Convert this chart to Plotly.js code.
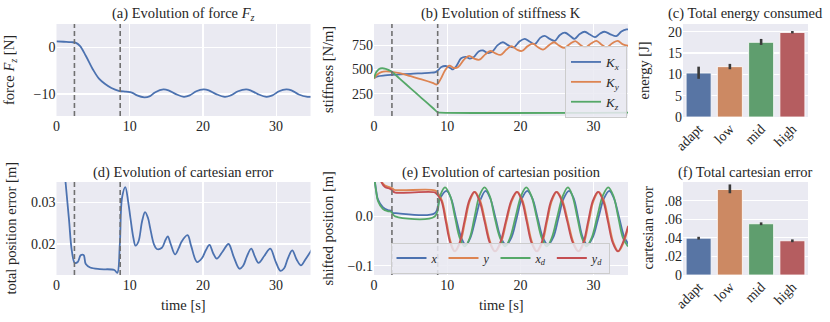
<!DOCTYPE html>
<html>
<head>
<meta charset="utf-8">
<script src="https://cdn.plot.ly/plotly-3.0.1.min.js"></script>
<style>
  html, body { margin: 0; padding: 0; background: #fff; }
  #plot { width: 830px; height: 322px; }
</style>
</head>
<body>
<div id="plot"></div>
<script>
// ---- data ----
// dashed phase markers [s]
const phaseTimes = [2.45, 8.7];

// (a) force Fz
const forceTime = [0, 1, 2, 2.6, 3.2, 4, 5, 5.8, 6.6, 7.5, 8.5, 9.5, 10.3, 11, 12, 12.7, 13.5, 14.6, 15.3, 16.3, 17.4, 18.2, 19.1, 20.1, 20.8, 21.8, 23.0, 23.8, 24.8, 25.9, 26.5, 27.5, 28.7, 29.5, 30.4, 31.4, 32.1, 33.1, 34.3, 35];
const forceVal = [1.3, 1.2, 1.1, 1.0, 0.3, -1.8, -4.8, -6.7, -7.8, -8.7, -9.3, -9.5, -9.7, -10.3, -10.7, -10.5, -9.6, -9.0, -9.2, -10.0, -10.6, -10.3, -9.4, -9.0, -9.2, -10.0, -10.6, -10.3, -9.4, -9.0, -9.2, -10.0, -10.6, -10.3, -9.4, -9.0, -9.2, -10.1, -10.6, -10.6];

// (b) stiffness
const kxTime = [0, 0.5, 1.5, 2.5, 5, 7.5, 8.4, 8.8, 9.2, 9.8, 10.4, 10.8, 11.3, 11.9, 12.5, 13.1, 13.6, 14.3, 14.9, 15.5, 16.1, 16.9, 17.6, 18.3, 19.1, 19.9, 20.6, 21.3, 22.0, 22.7, 23.3, 24.0, 24.7, 25.4, 26.1, 26.8, 27.4, 28.1, 28.8, 29.5, 30.2, 30.9, 31.5, 32.3, 33.1, 33.8, 34.5, 35];
const kxVal = [410, 428, 438, 444, 455, 465, 472, 495, 525, 535, 515, 500, 540, 615, 630, 612, 625, 685, 695, 670, 680, 750, 780, 750, 728, 790, 815, 785, 762, 825, 845, 815, 795, 855, 878, 845, 815, 865, 888, 860, 832, 870, 888, 862, 843, 890, 912, 912];
const kyTime = [0, 0.4, 1.0, 1.6, 2.4, 3.5, 5.0, 6.5, 8.0, 8.6, 9.1, 9.7, 10.3, 10.9, 11.5, 12.3, 13.0, 13.7, 14.4, 15.2, 15.9, 16.6, 17.3, 18.1, 18.8, 19.5, 20.2, 21.0, 21.7, 22.4, 23.1, 23.9, 24.6, 25.3, 26.0, 26.8, 27.5, 28.2, 28.9, 29.7, 30.4, 31.1, 31.8, 32.6, 33.3, 34.0, 35];
const kyVal = [405, 445, 472, 480, 475, 462, 430, 398, 362, 345, 400, 490, 540, 515, 525, 600, 640, 610, 600, 655, 690, 665, 650, 705, 740, 705, 690, 740, 765, 728, 705, 750, 780, 745, 722, 765, 792, 752, 728, 770, 795, 755, 730, 772, 795, 758, 740];
const kzTime = [0, 0.3, 0.7, 1.1, 1.6, 2.4, 3.5, 5.0, 6.5, 8.0, 8.7, 9.0, 35];
const kzVal = [410, 470, 505, 512, 505, 478, 405, 305, 205, 105, 58, 55, 55];

// (c) energy per strategy
const strategies = ['adapt', 'low', 'mid', 'high'];
const energyVal = [10.3, 11.8, 17.5, 19.8];
const energyErrUp = [1.5, 0.65, 0.8, 0.35];
const energyErrDown = [1.35, 0.6, 0.6, 0.2];

// (d) total position error
const errTime = [0, 0.5, 1.0, 1.25, 1.7, 2.1, 2.5, 2.9, 3.3, 3.7, 4.0, 4.6, 5.9, 7.9, 8.3, 8.65, 8.95, 9.4, 9.8, 10.1, 10.5, 10.8, 11.2, 11.7, 12.1, 12.5, 12.8, 13.3, 13.7, 14.4, 14.9, 15.2, 15.6, 16.2, 16.7, 17.1, 17.9, 18.4, 19.2, 19.9, 20.4, 20.9, 21.4, 21.9, 22.7, 23.5, 24.2, 25.0, 25.5, 26.0, 26.6, 27.1, 27.6, 28.4, 29.2, 29.9, 30.6, 31.1, 31.6, 32.2, 32.8, 33.4, 34.0, 35];
const errVal = [0.075, 0.055, 0.040, 0.0345, 0.026, 0.0183, 0.0155, 0.0157, 0.0173, 0.0174, 0.0152, 0.0144, 0.0140, 0.0138, 0.0131, 0.0199, 0.0310, 0.0336, 0.0300, 0.0262, 0.0215, 0.0196, 0.0206, 0.0255, 0.0276, 0.0262, 0.0238, 0.0200, 0.0188, 0.0191, 0.0210, 0.0218, 0.0200, 0.0175, 0.0190, 0.0206, 0.0221, 0.0195, 0.0157, 0.0167, 0.0185, 0.0198, 0.0178, 0.0165, 0.0182, 0.0200, 0.0170, 0.0141, 0.0148, 0.0170, 0.0189, 0.0170, 0.0155, 0.0172, 0.0189, 0.0160, 0.0136, 0.0142, 0.0165, 0.0185, 0.0163, 0.0149, 0.0163, 0.0190];

// (e) shifted cartesian position
const posXTime = [0, 0.3, 0.55, 1.2, 1.9, 2.35, 2.6, 3.0, 8.3, 9.0, 9.9, 10.55, 11.2, 11.9, 12.55, 13.2, 13.9, 14.6, 15.25, 15.9, 16.6, 17.3, 18.05, 18.8, 19.5, 20.2, 20.95, 21.65, 22.35, 23.05, 23.75, 24.5, 25.2, 25.9, 26.65, 27.3, 27.9, 28.5, 29.15, 29.9, 30.65, 31.4, 32.15, 32.8, 33.5, 34.2, 34.85];
const posXVal = [0.085, 0.052, 0.034, 0.019, 0.013, 0.0115, 0.007, 0.0068, 0.0065, 0.036, 0.052, 0.036, -0.003, -0.042, -0.058, -0.042, -0.003, 0.036, 0.052, 0.036, -0.003, -0.042, -0.058, -0.042, -0.003, 0.036, 0.052, 0.036, -0.003, -0.042, -0.058, -0.042, -0.003, 0.036, 0.052, 0.036, -0.003, -0.042, -0.058, -0.042, -0.003, 0.036, 0.052, 0.036, -0.003, -0.042, -0.058];
const posYTime = [0, 0.5, 1.0, 1.5, 2.2, 2.5, 2.8, 8.3, 8.7, 9.3, 9.9, 10.5, 11.1, 11.8, 12.45, 13.1, 13.8, 14.5, 15.2, 15.9, 16.6, 17.35, 18.1, 18.85, 19.6, 20.3, 20.95, 21.6, 22.3, 23.0, 23.65, 24.3, 25.0, 25.75, 26.5, 27.25, 28.0, 28.7, 29.35, 30.0, 30.7, 31.4, 32.05, 32.7, 33.4, 34.1, 34.8];
const posYVal = [0.16, 0.1, 0.072, 0.063, 0.059, 0.057, 0.054, 0.053, 0.048, 0.032, -0.01, -0.053, -0.071, -0.053, -0.01, 0.032, 0.05, 0.032, -0.01, -0.053, -0.071, -0.053, -0.01, 0.032, 0.05, 0.032, -0.01, -0.053, -0.071, -0.053, -0.01, 0.032, 0.05, 0.032, -0.01, -0.053, -0.071, -0.053, -0.01, 0.032, 0.05, 0.032, -0.01, -0.053, -0.071, -0.053, -0.018];
const posXdTime = [0, 0.3, 0.55, 1.2, 1.9, 2.35, 2.6, 2.9, 8.3, 9.0, 9.7, 10.4, 11.05, 11.7, 12.4, 13.1, 13.75, 14.4, 15.1, 15.8, 16.45, 17.2, 17.9, 18.6, 19.35, 20.1, 20.8, 21.5, 22.2, 22.9, 23.6, 24.3, 25.05, 25.8, 26.5, 27.1, 27.75, 28.4, 29.0, 29.75, 30.5, 31.25, 32.0, 32.7, 33.35, 34.0, 34.7];
const posXdVal = [0.085, 0.05, 0.031, 0.0155, 0.0105, 0.0095, 0.004, 0.0, 0.0, 0.041, 0.059, 0.042, 0.0, -0.043, -0.061, -0.043, 0.0, 0.042, 0.059, 0.042, 0.0, -0.043, -0.061, -0.043, 0.0, 0.042, 0.059, 0.042, 0.0, -0.043, -0.061, -0.043, 0.0, 0.042, 0.059, 0.042, 0.0, -0.043, -0.061, -0.043, 0.0, 0.042, 0.059, 0.042, 0.0, -0.043, -0.061];
const posYdTime = [0, 0.5, 1.0, 1.5, 2.2, 2.5, 2.8, 8.3, 8.6, 9.2, 9.8, 10.4, 11.0, 11.7, 12.35, 13.0, 13.7, 14.4, 15.1, 15.8, 16.5, 17.25, 18.0, 18.75, 19.5, 20.2, 20.85, 21.5, 22.2, 22.9, 23.55, 24.2, 24.9, 25.65, 26.4, 27.15, 27.9, 28.6, 29.25, 29.9, 30.6, 31.3, 31.95, 32.6, 33.3, 34.0, 34.7];
const posYdVal = [0.16, 0.1, 0.07, 0.06, 0.056, 0.053, 0.049, 0.049, 0.045, 0.032, -0.01, -0.053, -0.071, -0.053, -0.01, 0.032, 0.05, 0.032, -0.01, -0.053, -0.071, -0.053, -0.01, 0.032, 0.05, 0.032, -0.01, -0.053, -0.071, -0.053, -0.01, 0.032, 0.05, 0.032, -0.01, -0.053, -0.071, -0.053, -0.01, 0.032, 0.05, 0.032, -0.01, -0.053, -0.071, -0.053, -0.02];

// (f) total cartesian error
const cartErrVal = [0.0396, 0.0919, 0.0551, 0.0368];
const cartErrUp = [0.0015, 0.0055, 0.0015, 0.0015];
const cartErrDown = [0.0015, 0.004, 0.0015, 0.0015];

// ---- style ----
const W = 830, H = 322;
const FONT = '"Liberation Serif", serif';
const TXT = '#262626';
const BG = '#EAEAF2';
const C = { blue: '#4C72B0', orange: '#DD8452', green: '#55A868', red: '#C44E52' };
const BAR = ['#5875A4', '#CC8963', '#5F9E6E', '#B55D60'];

// plot boxes in pixels: [left, right, top, bottom]
const boxes = [
    [56.5, 310.5, 24, 116],
    [374, 628, 24, 116],
    [683, 808, 24, 117],
    [56.5, 310.5, 182, 275],
    [374, 628, 182, 275],
    [683, 808, 182, 275]
];
const xDom = b => [b[0] / W, b[1] / W];
const yDom = b => [1 - b[3] / H, 1 - b[2] / H];

function axis(extra) {
    return Object.assign({
        showgrid: true, gridcolor: '#ffffff', gridwidth: 1.2,
        zeroline: false, showline: false, ticks: '',
        tickfont: { family: FONT, size: 14, color: TXT }
    }, extra);
}

function line(x, y, color, xa, ya, extra) {
    return Object.assign({
        x, y, type: 'scatter', mode: 'lines', xaxis: xa, yaxis: ya,
        line: { color, width: 1.8, shape: 'spline', smoothing: 1.0 },
        showlegend: false, hoverinfo: 'skip'
    }, extra || {});
}

const traces = [
    line(forceTime, forceVal, C.blue, 'x', 'y'),
    line(kxTime, kxVal, C.blue, 'x2', 'y2', { name: '<i>K</i><sub><i>x</i></sub>', showlegend: true, legend: 'legend' }),
    line(kyTime, kyVal, C.orange, 'x2', 'y2', { name: '<i>K</i><sub><i>y</i></sub>', showlegend: true, legend: 'legend' }),
    line(kzTime, kzVal, C.green, 'x2', 'y2', { name: '<i>K</i><sub><i>z</i></sub>', showlegend: true, legend: 'legend' }),
    {
        x: strategies, y: energyVal, type: 'bar', xaxis: 'x3', yaxis: 'y3', width: 0.8,
        marker: { color: BAR, line: { color: '#ffffff', width: 0.8 } },
        error_y: { type: 'data', symmetric: false, array: energyErrUp, arrayminus: energyErrDown, color: '#3a3a3a', thickness: 2.6, width: 0 },
        showlegend: false, hoverinfo: 'skip'
    },
    line(errTime, errVal, C.blue, 'x4', 'y4'),
    line(posXTime, posXVal, C.blue, 'x5', 'y5', { name: '<i>x</i>', showlegend: true, legend: 'legend2' }),
    line(posYTime, posYVal, C.orange, 'x5', 'y5', { name: '<i>y</i>', showlegend: true, legend: 'legend2' }),
    line(posXdTime, posXdVal, C.green, 'x5', 'y5', { name: '<i>x</i><sub><i>d</i></sub>', showlegend: true, legend: 'legend2' }),
    line(posYdTime, posYdVal, C.red, 'x5', 'y5', { name: '<i>y</i><sub><i>d</i></sub>', showlegend: true, legend: 'legend2' }),
    {
        x: strategies, y: cartErrVal, type: 'bar', xaxis: 'x6', yaxis: 'y6', width: 0.8,
        marker: { color: BAR, line: { color: '#ffffff', width: 0.8 } },
        error_y: { type: 'data', symmetric: false, array: cartErrUp, arrayminus: cartErrDown, color: '#3a3a3a', thickness: 2.6, width: 0 },
        showlegend: false, hoverinfo: 'skip'
    }
];

// dashed phase lines on the four time panels
const shapes = [];
[['x', 'y'], ['x2', 'y2'], ['x4', 'y4'], ['x5', 'y5']].forEach(([xa, ya]) => {
    phaseTimes.forEach(t => {
        shapes.push({
            type: 'line', xref: xa, yref: ya + ' domain', x0: t, x1: t, y0: 0, y1: 1,
            line: { color: '#707070', width: 1.6, dash: '5px,3px' }
        });
    });
});

// titles and axis labels as annotations
function note(text, px, py, angle) {
    return {
        text, xref: 'paper', yref: 'paper', x: px / W, y: 1 - py / H,
        xanchor: 'center', yanchor: 'middle', showarrow: false, textangle: angle || 0,
        font: { family: FONT, size: 14.5, color: TXT }
    };
}
const mid = b => (b[0] + b[1]) / 2;
const vmid = b => (b[2] + b[3]) / 2;
const annotations = [
    note('(a) Evolution of force <i>F</i><sub><i>z</i></sub>', mid(boxes[0]), 14),
    note('(b) Evolution of stiffness K', mid(boxes[1]), 14),
    note('(c) Total energy consumed', mid(boxes[2]), 14),
    note('(d) Evolution of cartesian error', mid(boxes[3]), 172),
    note('(e) Evolution of cartesian position', mid(boxes[4]), 172),
    note('(f) Total cartesian error', mid(boxes[5]), 172),
    note('force <i>F</i><sub><i>z</i></sub> [N]', 10, vmid(boxes[0]), -90),
    note('stiffness [N/m]', 328, vmid(boxes[1]), -90),
    note('energy [J]', 643, vmid(boxes[2]), -90),
    note('total position error [m]', 10, vmid(boxes[3]), -90),
    note('shifted position [m]', 327, vmid(boxes[4]), -90),
    note('cartesian error', 647, vmid(boxes[5]), -90),
    note('time [s]', mid(boxes[3]), 305),
    note('time [s]', mid(boxes[4]), 305)
];

const timeTicks = [0, 10, 20, 30];
const layout = {
    width: W, height: H,
    margin: { l: 0, r: 0, t: 0, b: 0 },
    paper_bgcolor: '#ffffff', plot_bgcolor: BG,
    font: { family: FONT, color: TXT },
    xaxis: axis({ domain: xDom(boxes[0]), anchor: 'y', range: [0, 34.7], tickvals: timeTicks }),
    yaxis: axis({ domain: yDom(boxes[0]), anchor: 'x', range: [-14.7, 5.0], tickvals: [-10, 0] }),
    xaxis2: axis({ domain: xDom(boxes[1]), anchor: 'y2', range: [0, 34.7], tickvals: timeTicks }),
    yaxis2: axis({ domain: yDom(boxes[1]), anchor: 'x2', range: [20, 968], tickvals: [250, 500, 750] }),
    xaxis3: axis({ domain: xDom(boxes[2]), anchor: 'y3', showgrid: false, tickangle: -45, range: [-0.5, 3.5] }),
    yaxis3: axis({ domain: yDom(boxes[2]), anchor: 'x3', range: [0, 21.8], tickvals: [0, 5, 10, 15, 20] }),
    xaxis4: axis({ domain: xDom(boxes[3]), anchor: 'y4', range: [0, 34.7], tickvals: timeTicks }),
    yaxis4: axis({ domain: yDom(boxes[3]), anchor: 'x4', range: [0.0126, 0.0348], tickvals: [0.02, 0.03], tickformat: '.2f' }),
    xaxis5: axis({ domain: xDom(boxes[4]), anchor: 'y5', range: [0, 34.7], tickvals: timeTicks }),
    yaxis5: axis({ domain: yDom(boxes[4]), anchor: 'x5', range: [-0.119, 0.07], tickvals: [-0.1, 0], tickformat: '.1f' }),
    xaxis6: axis({ domain: xDom(boxes[5]), anchor: 'y6', showgrid: false, tickangle: -45, range: [-0.5, 3.5] }),
    yaxis6: axis({ domain: yDom(boxes[5]), anchor: 'x6', range: [0, 0.1], tickvals: [0, 0.02, 0.04, 0.06, 0.08], ticktext: ['0', '.02', '.04', '.06', '.08'] }),
    legend: {
        x: 627 / W, y: 1 - 46 / H, xanchor: 'right', yanchor: 'top',
        bgcolor: 'rgba(234,234,242,0.85)', bordercolor: '#cccccc', borderwidth: 1,
        font: { family: FONT, size: 13, color: TXT }, itemwidth: 30, tracegroupgap: 0
    },
    legend2: {
        orientation: 'h', x: 500 / W, y: 1 - 273.5 / H, xanchor: 'center', yanchor: 'bottom',
        bgcolor: 'rgba(234,234,242,0.85)', bordercolor: '#cccccc', borderwidth: 1,
        font: { family: FONT, size: 12, color: TXT }, itemwidth: 30
    },
    shapes, annotations
};

Plotly.newPlot('plot', traces, layout, { staticPlot: true, displayModeBar: false });
</script>
</body>
</html>
